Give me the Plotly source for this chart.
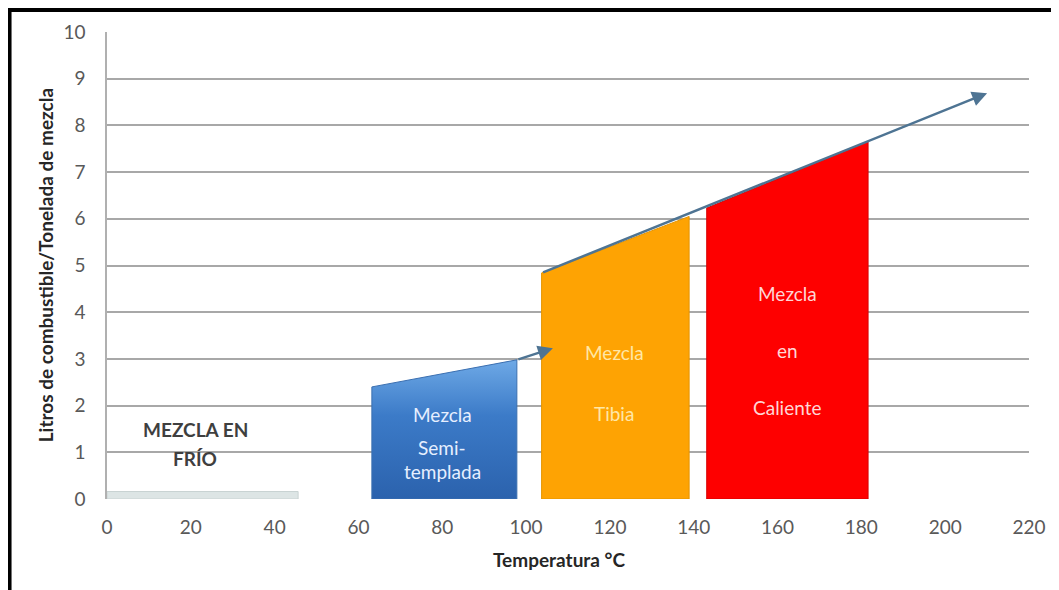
import plotly.graph_objects as go

# ---- data ----
x_ticks = [0, 20, 40, 60, 80, 100, 120, 140, 160, 180, 200, 220]
y_ticks = [0, 1, 2, 3, 4, 5, 6, 7, 8, 9, 10]

# each zone: temperature start/end, fuel use at start/end
cold_x = [0, 45.6]
cold_y = [0.16, 0.16]
semi_x = [63.2, 97.8]
semi_y = [2.40, 2.98]
warm_x = [103.7, 138.9]
warm_y = [4.84, 6.05]
hot_x = [143.1, 181.6]
hot_y = [6.23, 7.65]

# arrows (tail -> head)
semi_arrow_x = [97.8, 106.4]
semi_arrow_y = [2.98, 3.23]
trend_arrow_x = [103.7, 210.0]
trend_arrow_y = [4.84, 8.69]

# labels
cold_label = ["MEZCLA EN", "FRÍO"]
cold_label_x = 21
cold_label_y = [1.48, 0.86]
semi_label = ["Mezcla", "Semi-", "templada"]
semi_label_x = 80
semi_label_y = [1.80, 1.11, 0.58]
warm_label = ["Mezcla", "Tibia"]
warm_label_x = 121
warm_label_y = [3.13, 1.84]
hot_label = ["Mezcla", "en", "Caliente"]
hot_label_x = 162.3
hot_label_y = [4.41, 3.19, 1.97]

FONT = "Lato"


def poly(xs, ys):
    return [xs[0], xs[1], xs[1], xs[0], xs[0]], [0, 0, ys[1], ys[0], 0]


fig = go.Figure()

px_, py_ = poly(cold_x, cold_y)
fig.add_trace(go.Scatter(x=px_, y=py_, fill="toself", mode="lines",
                         fillcolor="#dde5e5", line=dict(color="#c9d3d3", width=1),
                         hoverinfo="skip", showlegend=False))

px_, py_ = poly(semi_x, semi_y)
fig.add_trace(go.Scatter(x=px_, y=py_, fill="toself", mode="lines",
                         fillgradient=dict(type="vertical",
                                           colorscale=[[0, "#2b62ad"], [0.6, "#3c7bc8"], [1, "#6ea9e6"]]),
                         line=dict(color="#3b6fb0", width=1),
                         hoverinfo="skip", showlegend=False))

px_, py_ = poly(warm_x, warm_y)
fig.add_trace(go.Scatter(x=px_, y=py_, fill="toself", mode="lines",
                         fillcolor="#fea303", line=dict(color="#e59400", width=1),
                         hoverinfo="skip", showlegend=False))

px_, py_ = poly(hot_x, hot_y)
fig.add_trace(go.Scatter(x=px_, y=py_, fill="toself", mode="lines",
                         fillcolor="#fe0000", line=dict(color="#d80000", width=1),
                         hoverinfo="skip", showlegend=False))

annotations = []
# arrows
for ax_, ay_ in [(semi_arrow_x, semi_arrow_y), (trend_arrow_x, trend_arrow_y)]:
    annotations.append(dict(x=ax_[1], y=ay_[1], ax=ax_[0], ay=ay_[0],
                            xref="x", yref="y", axref="x", ayref="y",
                            text="", showarrow=True, arrowhead=2, arrowsize=1.2,
                            arrowwidth=2.5, arrowcolor="#4e7493"))


def add_lines(lines, x, ys, color, size, bold=False):
    for t, y in zip(lines, ys):
        annotations.append(dict(x=x, y=y, xref="x", yref="y", showarrow=False,
                                xanchor="center", yanchor="middle",
                                text=f"<b>{t}</b>" if bold else t,
                                font=dict(family=FONT, size=size, color=color)))


add_lines(cold_label, cold_label_x, cold_label_y, "#3f3f3f", 19, bold=True)
add_lines(semi_label, semi_label_x, semi_label_y, "#e6efff", 19)
add_lines(warm_label, warm_label_x, warm_label_y, "#ffe7a6", 19)
add_lines(hot_label, hot_label_x, hot_label_y, "#ffd6d6", 19)

# axis titles as annotations for precise placement
annotations.append(dict(x=-0.067, y=0.501, xref="paper", yref="paper", showarrow=False,
                        xanchor="center", yanchor="middle",
                        text="<b>Litros de combustible/Tonelada de mezcla</b>", textangle=-90,
                        font=dict(family=FONT, size=19, color="#262626")))
annotations.append(dict(x=0.49, y=-0.1306, xref="paper", yref="paper", showarrow=False,
                        xanchor="center", yanchor="middle",
                        text="<b>Temperatura °C</b>",
                        font=dict(family=FONT, size=19, color="#262626")))

shapes = [
    dict(type="line", xref="paper", yref="paper", x0=-0.1057, x1=-0.1057, y0=-0.3, y1=1.0471,
         line=dict(color="black", width=4)),
    dict(type="line", xref="paper", yref="paper", x0=-0.108, x1=1.1, y0=1.0471, y1=1.0471,
         line=dict(color="black", width=4)),
]

fig.update_layout(
    width=1051, height=582,
    margin=dict(l=99, r=30, t=24, b=91),
    paper_bgcolor="white", plot_bgcolor="white",
    annotations=annotations, shapes=shapes,
    font=dict(family=FONT),
    xaxis=dict(range=[0, 220], tickvals=x_ticks, showgrid=False, zeroline=False,
               showline=False, ticks="", ticklabelstandoff=15,
               tickfont=dict(family=FONT, size=19, color="#595959")),
    yaxis=dict(range=[0, 10], tickvals=y_ticks, showgrid=True, gridcolor="#a8a8a8",
               gridwidth=1.5, zeroline=False, showline=True, linecolor="#b0b0b0", linewidth=1.5,
               ticks="", ticklabelstandoff=16,
               tickfont=dict(family=FONT, size=19, color="#595959")),
)

fig.write_html("out.html")
